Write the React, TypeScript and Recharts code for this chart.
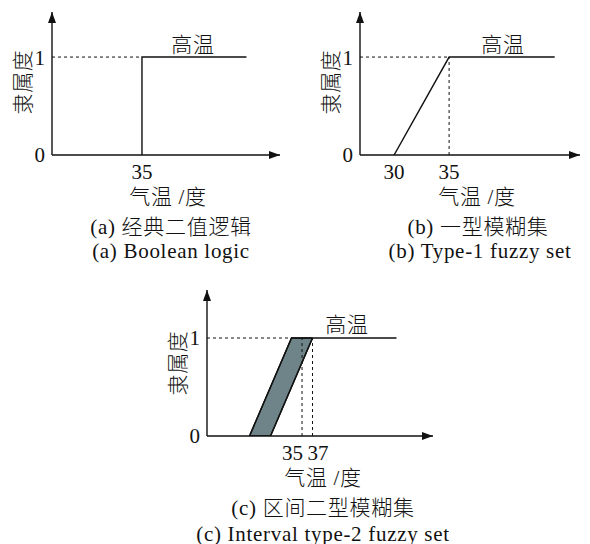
import React from "react";
import {
  ComposedChart,
  Line,
  Area,
  XAxis,
  YAxis,
  ReferenceLine,
  ReferenceDot,
} from "recharts";

// ─── data ─────────────────────────────────────────────────────────────────────

const yTicks = [0, 1];

// (a) crisp boolean set
const aXTicks = [35];
const aCrispX = [35, 35, 44.5];
const aCrispY = [0, 1, 1];

// (b) type-1 fuzzy set
const bXTicks = [30, 35];
const bType1X = [30, 35, 44.6];
const bType1Y = [0, 1, 1];

// (c) interval type-2 fuzzy set
const cXTicks = [35, 37];
const cUpperX = [25, 33, 53];
const cUpperY = [0, 1, 1];
const cLowerX = [29, 37];
const cLowerY = [0, 1];
const cBandX = [25, 29, 33, 37];
const cBandLow = [0, 0, 0.5, 1];
const cBandHigh = [0, 0.5, 1, 1];

const zip = (xs: number[], ys: number[]) => xs.map((x, i) => ({ x, y: ys[i] }));

// ─── styles ───────────────────────────────────────────────────────────────────

const INK = "#111";
const FONT = '"Liberation Serif", "Noto Sans CJK SC", serif';
const DOT = "3 3";
const TICK_SIZE = 21;

// ─── helpers ──────────────────────────────────────────────────────────────────

const ArrowRight = (p: any) => (
  <path d={`M${p.cx},${p.cy} L${p.cx - 11},${p.cy - 4} L${p.cx - 11},${p.cy + 4} Z`} fill={INK} />
);
const ArrowUp = (p: any) => (
  <path d={`M${p.cx},${p.cy} L${p.cx - 4},${p.cy + 11} L${p.cx + 4},${p.cy + 11} Z`} fill={INK} />
);

// 35 and 37 sit close together, so push them apart
function SplitTick({ x, y, payload }: any) {
  const left = payload.value === 35;
  return (
    <text
      x={left ? x + 1 : x - 5}
      y={y}
      dy="0.71em"
      textAnchor={left ? "end" : "start"}
      fill={INK}
      fontSize={TICK_SIZE}
      fontFamily={FONT}
    >
      {payload.value}
    </text>
  );
}

function Txt({ x, y, size = 21, rotate = false, children }: any) {
  return (
    <div
      style={{
        position: "absolute",
        left: x,
        top: y,
        transform: `translate(-50%, -50%)${rotate ? " rotate(-90deg)" : ""}`,
        whiteSpace: "nowrap",
        fontFamily: FONT,
        fontSize: size,
        fontWeight: 300,
        letterSpacing: 0.7,
        color: INK,
        lineHeight: 1,
      }}
    >
      {children}
    </div>
  );
}

interface PanelProps {
  ox: number;
  oy: number;
  pw: number;
  ph: number;
  xDomain: [number, number];
  yMax: number;
  xTicks: number[];
  tick?: any;
  children: React.ReactNode;
}

function Panel({ ox, oy, pw, ph, xDomain, yMax, xTicks, tick, children }: PanelProps) {
  const yw = 40;
  const xh = 30;
  return (
    <div style={{ position: "absolute", left: ox - yw, top: oy - ph - 10 }}>
      <ComposedChart
        width={yw + pw + 10}
        height={10 + ph + xh}
        margin={{ top: 10, right: 10, left: 0, bottom: 0 }}
      >
        <XAxis
          type="number"
          dataKey="x"
          domain={xDomain}
          ticks={xTicks}
          interval={0}
          allowDataOverflow
          height={xh}
          tickLine={false}
          tickMargin={3}
          axisLine={{ stroke: INK, strokeWidth: 1.4 }}
          tick={tick ?? { fill: INK, fontSize: TICK_SIZE, fontFamily: FONT }}
        />
        <YAxis
          type="number"
          domain={[0, yMax]}
          ticks={yTicks}
          interval={0}
          allowDataOverflow
          width={yw}
          tickLine={false}
          tickMargin={1}
          axisLine={{ stroke: INK, strokeWidth: 1.4 }}
          tick={{ fill: INK, fontSize: TICK_SIZE, fontFamily: FONT }}
        />
        {children}
        <ReferenceDot x={xDomain[1]} y={0} shape={ArrowRight} ifOverflow="visible" />
        <ReferenceDot x={xDomain[0]} y={yMax} shape={ArrowUp} ifOverflow="visible" />
      </ComposedChart>
    </div>
  );
}

// ─── main component ───────────────────────────────────────────────────────────

export default function App() {
  const lineProps = {
    type: "linear" as const,
    dataKey: "y",
    stroke: INK,
    strokeWidth: 1.4,
    dot: false,
    activeDot: false,
    isAnimationActive: false,
  };
  const band = cBandX.map((x, i) => ({ x, y: [cBandLow[i], cBandHigh[i]] }));

  return (
    <div
      style={{
        position: "absolute",
        left: 0,
        top: 0,
        width: 590,
        height: 544,
        background: "#fff",
        overflow: "hidden",
      }}
    >
      {/* (a) */}
      <Panel ox={52} oy={155} pw={228} ph={143} xDomain={[26.82, 47.55]} yMax={1.46} xTicks={aXTicks}>
        <ReferenceLine segment={[{ x: 26.82, y: 1 }, { x: 35, y: 1 }]} stroke={INK} strokeDasharray={DOT} />
        <Line data={zip(aCrispX, aCrispY)} {...lineProps} />
      </Panel>
      <Txt x={193} y={45}>高温</Txt>
      <Txt x={23} y={82} rotate>隶属度</Txt>
      <Txt x={168} y={197}>气温 /度</Txt>
      <Txt x={171} y={227}>(a) 经典二值逻辑</Txt>
      <Txt x={171} y={251}>(a) Boolean logic</Txt>

      {/* (b) */}
      <Panel ox={360} oy={155} pw={220} ph={143} xDomain={[26.9, 46.9]} yMax={1.46} xTicks={bXTicks}>
        <ReferenceLine segment={[{ x: 26.9, y: 1 }, { x: 35, y: 1 }]} stroke={INK} strokeDasharray={DOT} />
        <ReferenceLine segment={[{ x: 35, y: 0 }, { x: 35, y: 1 }]} stroke={INK} strokeDasharray={DOT} />
        <Line data={zip(bType1X, bType1Y)} {...lineProps} />
      </Panel>
      <Txt x={503} y={45}>高温</Txt>
      <Txt x={331} y={82} rotate>隶属度</Txt>
      <Txt x={477} y={197}>气温 /度</Txt>
      <Txt x={478} y={227}>(b) 一型模糊集</Txt>
      <Txt x={480} y={251}>(b) Type-1 fuzzy set</Txt>

      {/* (c) */}
      <Panel
        ox={207}
        oy={436}
        pw={226}
        ph={146}
        xDomain={[16.9, 59.95]}
        yMax={1.49}
        xTicks={cXTicks}
        tick={<SplitTick />}
      >
        <Area
          data={band}
          type="linear"
          dataKey="y"
          fill="#6f8488"
          fillOpacity={1}
          stroke={INK}
          strokeWidth={1.4}
          dot={false}
          activeDot={false}
          isAnimationActive={false}
        />
        <ReferenceLine segment={[{ x: 16.9, y: 1 }, { x: 33, y: 1 }]} stroke={INK} strokeDasharray={DOT} />
        <ReferenceLine segment={[{ x: 35, y: 0 }, { x: 35, y: 1 }]} stroke={INK} strokeDasharray={DOT} />
        <ReferenceLine segment={[{ x: 37, y: 0 }, { x: 37, y: 1 }]} stroke={INK} strokeDasharray={DOT} />
        <Line data={zip(cUpperX, cUpperY)} {...lineProps} />
        <Line data={zip(cLowerX, cLowerY)} {...lineProps} />
      </Panel>
      <Txt x={347} y={325}>高温</Txt>
      <Txt x={178} y={363} rotate>隶属度</Txt>
      <Txt x={323} y={478}>气温 /度</Txt>
      <Txt x={323} y={508}>(c) 区间二型模糊集</Txt>
      <Txt x={323} y={534}>(c) Interval type-2 fuzzy set</Txt>
    </div>
  );
}
